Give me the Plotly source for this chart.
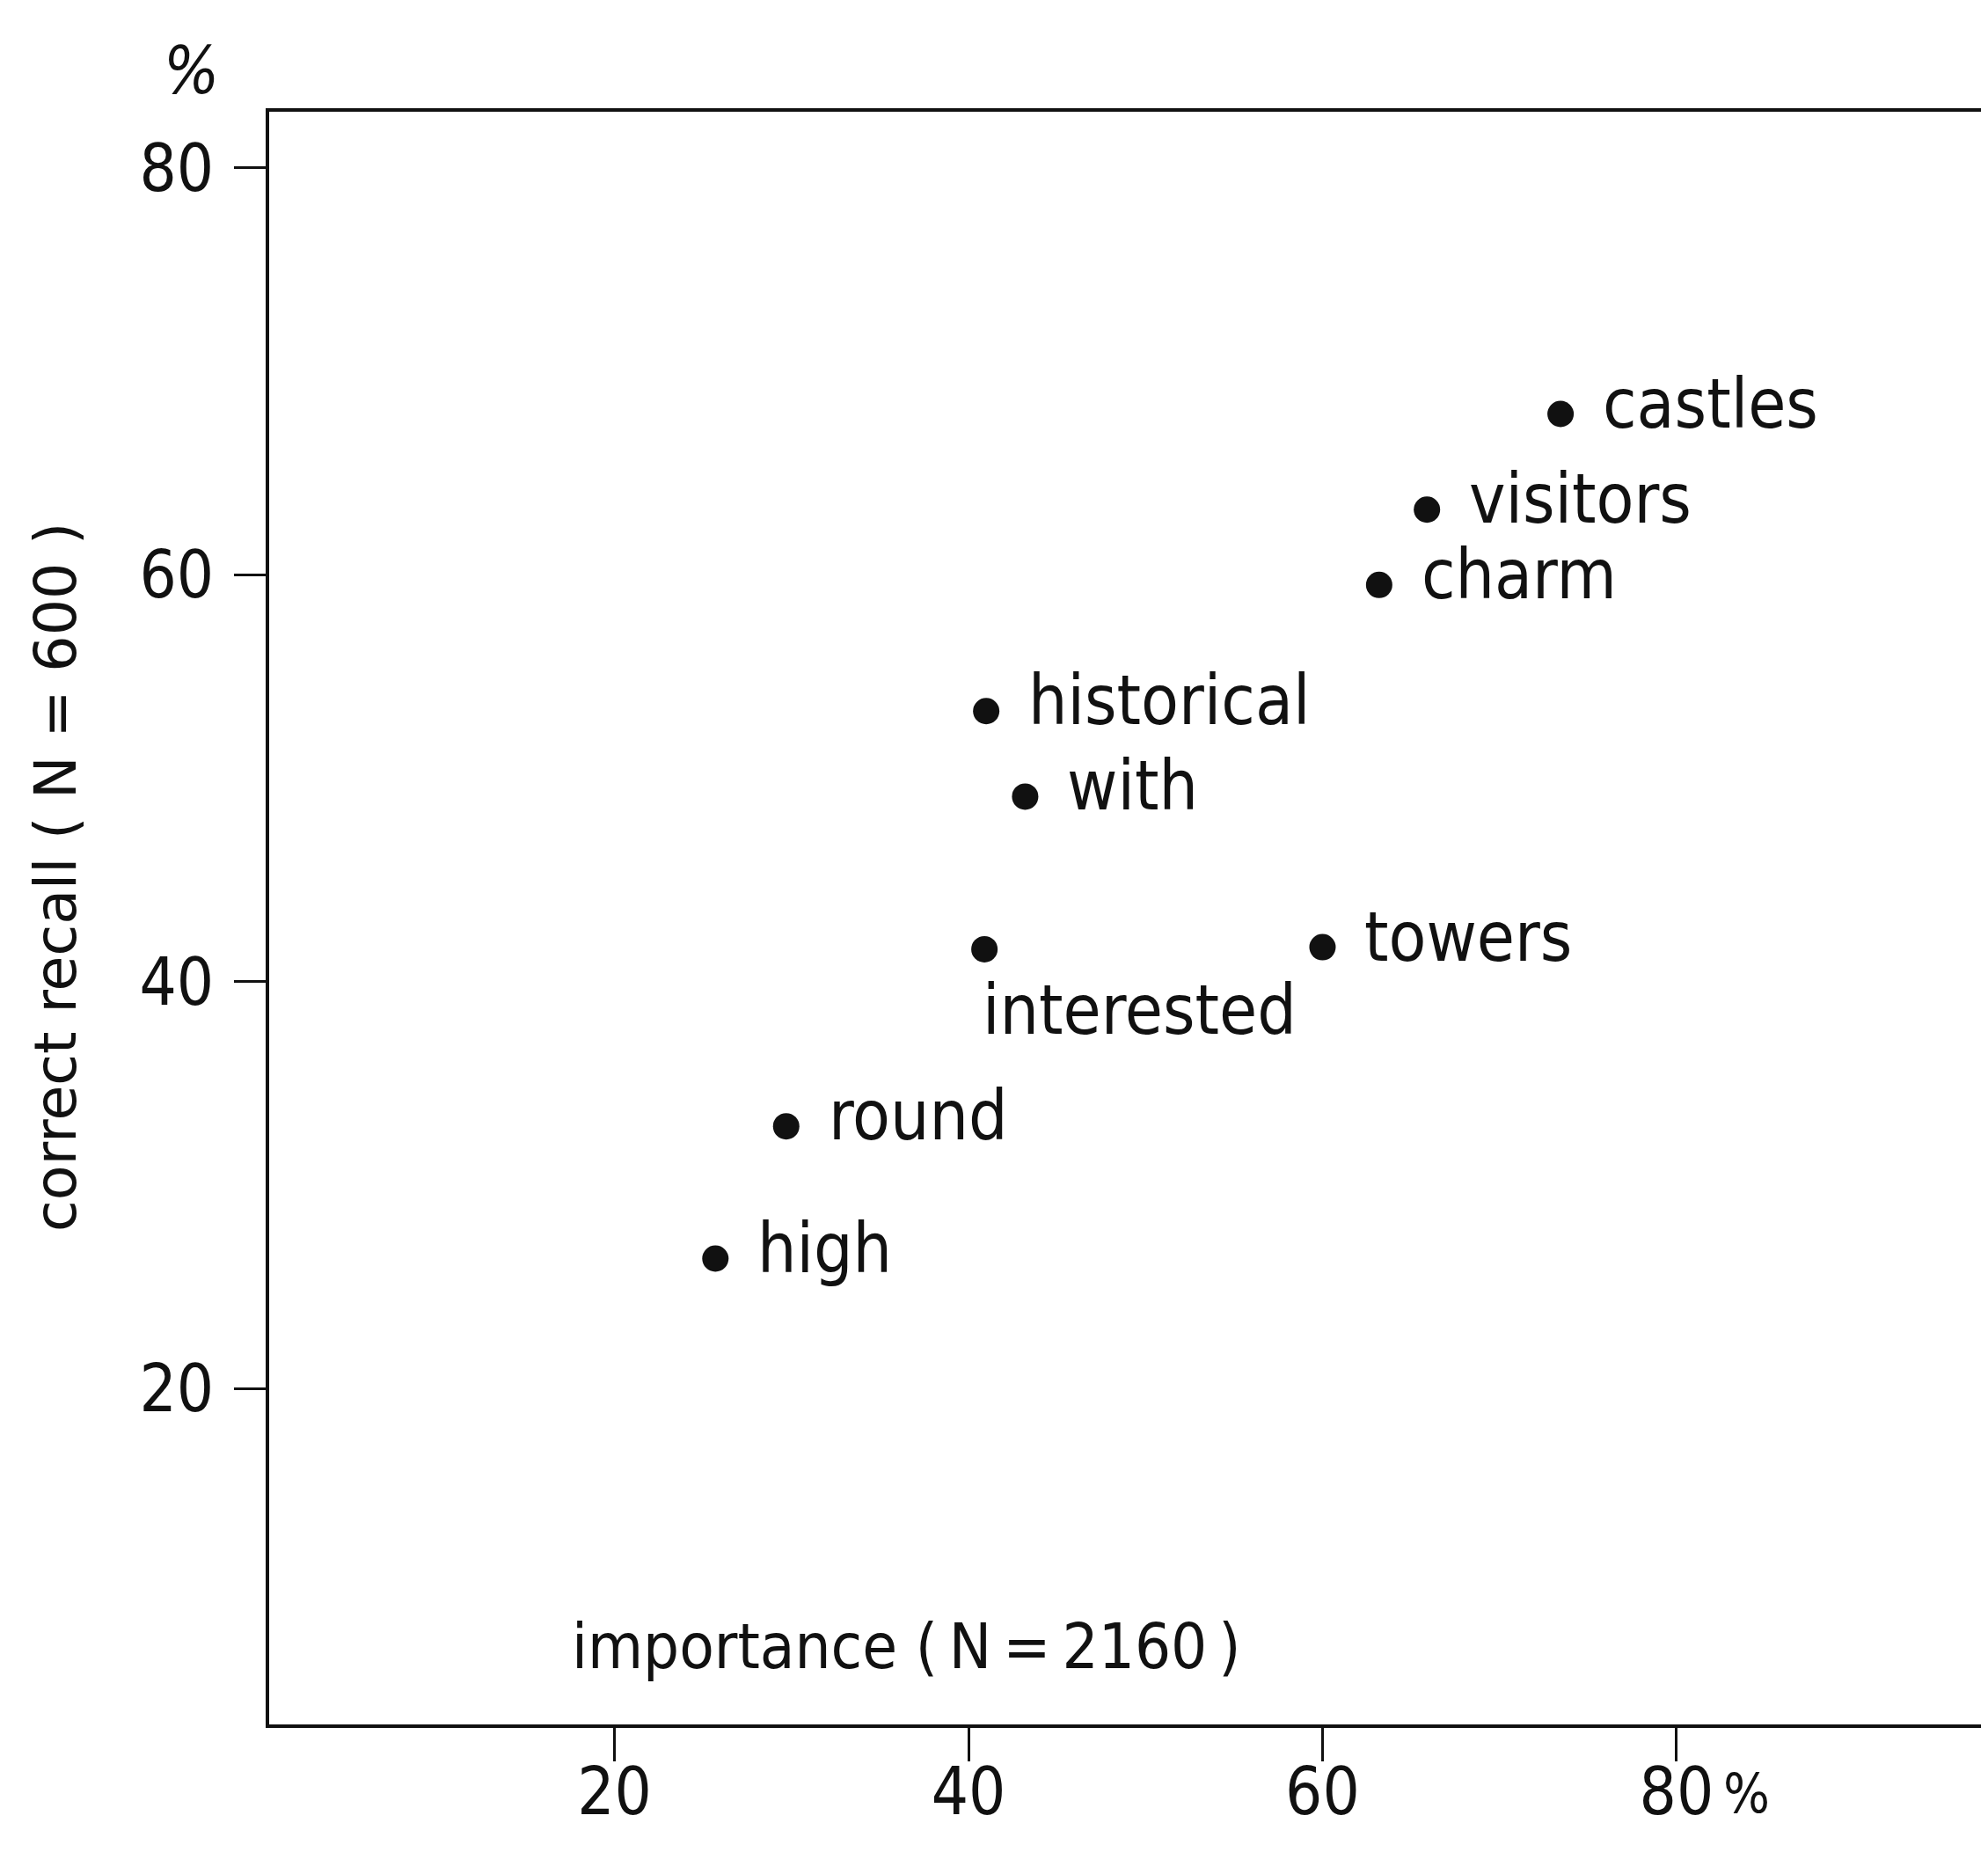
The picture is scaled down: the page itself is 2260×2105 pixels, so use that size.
import plotly.graph_objects as go

# ---- data ----
words = ["castles", "visitors", "charm", "historical", "with",
         "interested", "towers", "round", "high"]
importance = [73.45, 65.9, 63.2, 41.0, 43.2, 40.9, 60.0, 29.7, 25.7]
recall = [67.9, 63.2, 59.5, 53.3, 49.1, 41.6, 41.7, 32.9, 26.4]

x_ticks = [20, 40, 60, 80]
x_ticktext = ["20", "40", "60", "80"]
y_ticks = [20, 40, 60, 80]
y_ticktext = ["20", "40", "60", "80"]

x_range = [0.49, 97.2]
y_range = [3.51, 82.75]

label_below = {"interested"}

COND = "DejaVu Sans Condensed, Liberation Sans Narrow, sans-serif"
WIDE = "DejaVu Sans, Liberation Sans, sans-serif"
INK = "#111111"

# page has an 8px body margin: the figure is sized so that it fits the window
W, H = 2244, 2089
L, R, T, B = 298, 0, 119, 137
OFF = 8  # body margin offset


def paper_x(abs_px):
    return (abs_px - OFF - L) / (W - L - R)


def paper_y(abs_px):
    return 1 - (abs_px - OFF - T) / (H - T - B)


fig = go.Figure()
fig.add_trace(go.Scatter(
    x=importance, y=recall, mode="markers",
    marker=dict(size=30, color=INK, line=dict(width=0)),
    hoverinfo="text", text=words, showlegend=False,
))

annotations = []
for w, xv, yv in zip(words, importance, recall):
    if w in label_below:
        annotations.append(dict(x=xv, y=yv, xref="x", yref="y", text=w,
                                showarrow=False, xanchor="left", yanchor="top",
                                xshift=-4, yshift=-22,
                                font=dict(family=COND, size=78, color=INK)))
    else:
        annotations.append(dict(x=xv, y=yv, xref="x", yref="y", text=w,
                                showarrow=False, xanchor="left", yanchor="middle",
                                xshift=46, yshift=12,
                                font=dict(family=COND, size=78, color=INK)))

# inner axis label
annotations.append(dict(x=17.5, y=7.35, xref="x", yref="y",
                        text="importance (\u2009N\u2009=\u20092160\u2009)",
                        showarrow=False, xanchor="left", yanchor="middle",
                        font=dict(family=COND, size=72, color=INK)))
# y-axis title
annotations.append(dict(x=paper_x(63), y=paper_y(997), xref="paper", yref="paper",
                        text="correct recall ( N = 600 )", showarrow=False,
                        textangle=-90, xanchor="center", yanchor="middle",
                        font=dict(family=WIDE, size=65, color=INK)))
# percent after the 80 x tick label
annotations.append(dict(x=80, y=0, xref="x", yref="paper", text="%",
                        showarrow=False, xanchor="center", yanchor="middle",
                        xshift=80, yshift=-78,
                        font=dict(family=COND, size=62, color=INK)))
# percent above the y axis
annotations.append(dict(x=paper_x(217), y=paper_y(80), xref="paper", yref="paper",
                        text="<i>%</i>", showarrow=False,
                        xanchor="center", yanchor="middle",
                        font=dict(family=COND, size=74, color=INK)))

fig.update_layout(
    width=W, height=H,
    margin=dict(l=L, r=R, t=T, b=B, pad=0),
    paper_bgcolor="white", plot_bgcolor="white",
    annotations=annotations,
    xaxis=dict(range=x_range, showgrid=False, zeroline=False,
               showline=True, linecolor=INK, linewidth=4, mirror=True,
               ticks="outside", ticklen=38, tickwidth=3, tickcolor=INK,
               tickvals=x_ticks, ticktext=x_ticktext, ticklabelstandoff=-29,
               tickfont=dict(family=COND, size=74, color=INK)),
    yaxis=dict(range=y_range, showgrid=False, zeroline=False,
               showline=True, linecolor=INK, linewidth=4,
               ticks="outside", ticklen=36, tickwidth=3, tickcolor=INK,
               tickvals=y_ticks, ticktext=y_ticktext, ticklabelstandoff=8,
               tickfont=dict(family=COND, size=74, color=INK)),
)

fig.write_html("out.html")
